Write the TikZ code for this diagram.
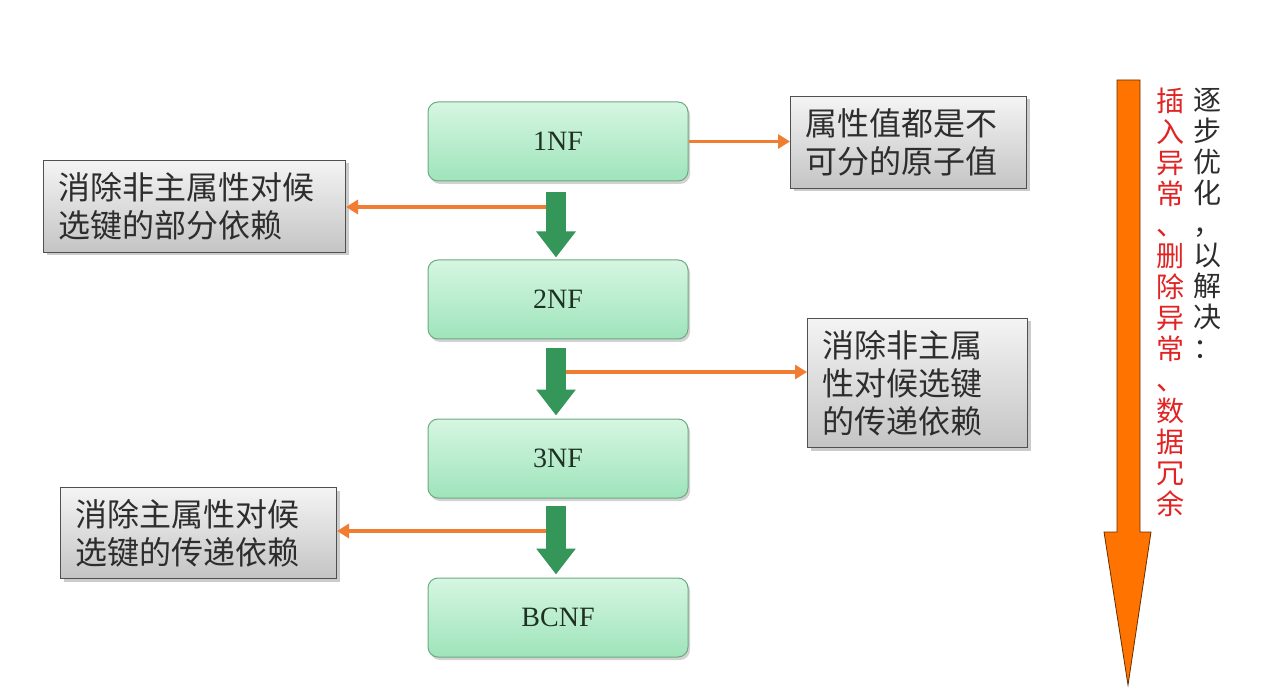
\documentclass[tikz,border=0pt]{standalone}
\usepackage{fontspec}
\setmainfont{Liberation Serif}
\newfontfamily\cjk{Noto Sans CJK SC}
\usetikzlibrary{arrows.meta,shadows,calc}
\definecolor{gtop}{RGB}{214,246,226}
\definecolor{gbot}{RGB}{158,228,186}
\definecolor{gborder}{RGB}{110,170,130}
\definecolor{garrowc}{RGB}{52,150,88}
\definecolor{conn}{RGB}{240,125,50}
\definecolor{bigor}{RGB}{255,115,0}
\definecolor{graytop}{RGB}{244,244,244}
\definecolor{graybot}{RGB}{196,196,196}
\definecolor{grayline}{RGB}{80,80,80}
\definecolor{txtgray}{RGB}{45,45,45}
\definecolor{nftxt}{RGB}{30,50,35}
\definecolor{redtxt}{RGB}{225,35,35}
\begin{document}
\begin{tikzpicture}[x=1pt,y=-1pt,
  nf/.style={draw=gborder, line width=1pt, rounded corners=10pt, top color=gtop, bottom color=gbot,
     minimum width=260pt, minimum height=79pt, font=\fontsize{28}{32}\selectfont, text=nftxt,
     drop shadow={shadow xshift=2pt, shadow yshift=-3pt, fill=black!35, opacity=0.5}},
  gbox/.style={draw=grayline, line width=1pt, top color=graytop, bottom color=graybot,
     inner xsep=15pt, inner ysep=0pt, align=left, anchor=north west, text=txtgray,
     font=\cjk\fontsize{32}{38}\selectfont,
     drop shadow={shadow xshift=3pt, shadow yshift=-3pt, fill=black!40, opacity=0.5}},
  conn/.style={draw=conn, line width=3.5pt, -{Triangle[width=14pt,length=12pt]}},
  garrow/.style={draw=garrowc, line width=20pt, -{Triangle[width=38pt,length=26pt]}},
  vtext/.style={font=\cjk\fontsize{28}{31}\selectfont, align=center, anchor=north, inner sep=0pt}
]
\path[use as bounding box, fill=white] (0,0) rectangle (1266,692);

% green boxes
\node[nf] (n1) at (558,141.5) {1NF};
\node[nf] (n2) at (558,299.5) {2NF};
\node[nf] (n3) at (558,458.5) {3NF};
\node[nf] (n4) at (558,617.5) {BCNF};

% gray boxes
\node[gbox, text width=206pt, minimum height=92pt] (g1) at (790,96) {属性值都是不\\可分的原子值};
\node[gbox, text width=272pt, minimum height=92pt] (g2) at (43,160) {消除非主属性对候\\选键的部分依赖};
\node[gbox, text width=190pt, minimum height=129pt] (g3) at (807,318) {消除非主属\\性对候选键\\的传递依赖};
\node[gbox, text width=246pt, minimum height=91pt] (g4) at (60,487) {消除主属性对候\\选键的传递依赖};

% orange connectors
\coordinate (c1) at (556,207);
\coordinate (c2) at (556,372);
\coordinate (c3) at (556,531);
\draw[conn] (n1.east) -- (n1.east -| g1.west);
\draw[conn] (c1) -- (c1 -| g2.east);
\draw[conn] (c2) -- (c2 -| g3.west);
\draw[conn] (c3) -- (c3 -| g4.east);

% green arrows
\draw[garrow] ([xshift=-2pt,yshift=-11pt]n1.south) -- ([xshift=-2pt,yshift=2pt]n2.north);
\draw[garrow] ([xshift=-2pt,yshift=-9pt]n2.south) -- ([xshift=-2pt,yshift=3pt]n3.north);
\draw[garrow] ([xshift=-2pt,yshift=-7pt]n3.south) -- ([xshift=-2pt,yshift=3pt]n4.north);

% big orange arrow
\filldraw[fill=bigor, draw=black!60!bigor, line width=0.8pt]
  (1117,80) -- (1140,80) -- (1140,532) -- (1151,532) -- (1128,685) -- (1104,532) -- (1117,532) -- cycle;

% vertical text
\node[vtext, text=txtgray] (vt1) at (1207,88) {逐\\步\\优\\化\\，\\以\\解\\决\\：};
\node[vtext, text=redtxt] (vt2) at (1170,88) {插\\入\\异\\常\\、\\删\\除\\异\\常\\、\\数\\据\\冗\\余};
\end{tikzpicture}
\end{document}
